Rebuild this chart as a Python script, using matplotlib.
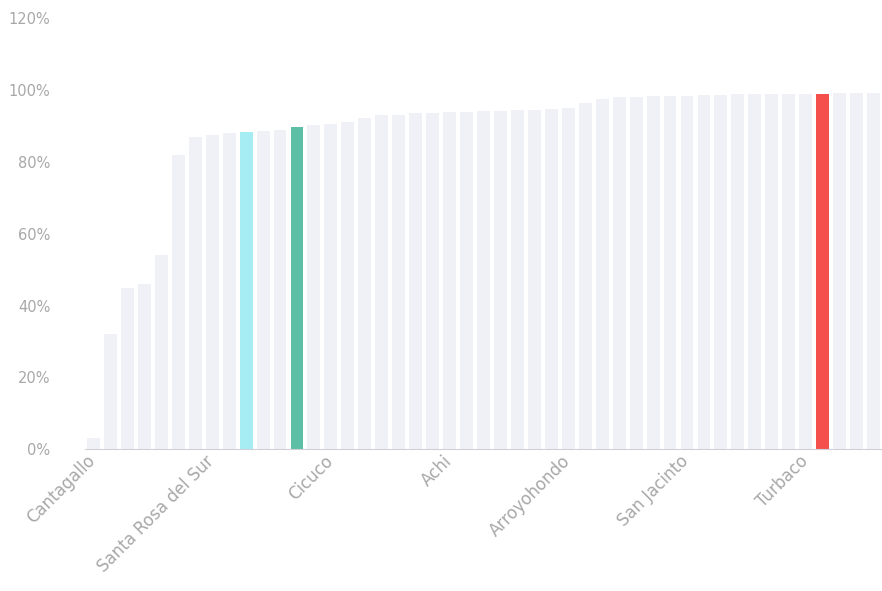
import numpy as np
import matplotlib
matplotlib.use('Agg')
import matplotlib.pyplot as plt
from matplotlib.ticker import FuncFormatter
from matplotlib.transforms import ScaledTranslation

# 47 municipalities, sorted by share (only every 7th is labelled in the original)
values = [3, 32, 45, 46, 54, 82, 87, 87.5, 88, 88.2,
          88.5, 89, 89.8, 90.2, 90.6, 91.2, 92.3, 93, 93.2, 93.5,
          93.7, 93.9, 94, 94.1, 94.3, 94.4, 94.6, 94.8, 95, 96.5,
          97.5, 98, 98.2, 98.3, 98.4, 98.5, 98.6, 98.7, 98.8, 98.8,
          98.9, 98.9, 99, 99, 99.1, 99.1, 99.2]
labels = ['Cantagallo', 'Santa Rosa del Sur', 'Cicuco', 'Achi',
          'Arroyohondo', 'San Jacinto', 'Turbaco']
label_idx = [0, 7, 14, 21, 28, 35, 42]
highlight = {9: '#A6ECF3', 12: '#5DBFA5', 43: '#F5504B'}

base_color = '#F0F0F7'
text_color = '#A8A8A8'

fig = plt.figure(figsize=(8.82, 5.91), dpi=100)
ax = fig.add_axes([0.0964, 0.240, 0.9036, 0.729])

x = np.arange(len(values))
colors = [highlight.get(i, base_color) for i in x]
ax.bar(x, values, width=0.76, color=colors, linewidth=0)

ax.set_xlim(-0.5, len(values) - 0.5)
ax.set_ylim(0, 120)
ax.set_yticks(np.arange(0, 121, 20))
ax.yaxis.set_major_formatter(FuncFormatter(lambda v, p: '%d%%' % v))
ax.tick_params(axis='y', length=0, pad=25, labelsize=10.5, labelcolor=text_color)

ax.set_xticks(label_idx)
ax.set_xticklabels(labels, rotation=45, ha='right', rotation_mode='anchor',
                   fontsize=12, color=text_color)
ax.tick_params(axis='x', length=0, pad=2)
shift = ScaledTranslation(-7 / 100, 0, fig.dpi_scale_trans)
for lbl in ax.get_xticklabels():
    lbl.set_transform(lbl.get_transform() + shift)

for s in ['top', 'right', 'left']:
    ax.spines[s].set_visible(False)
ax.spines['bottom'].set_color('#D0D0D8')
ax.spines['bottom'].set_linewidth(0.8)

plt.savefig('out.png', dpi=100)
